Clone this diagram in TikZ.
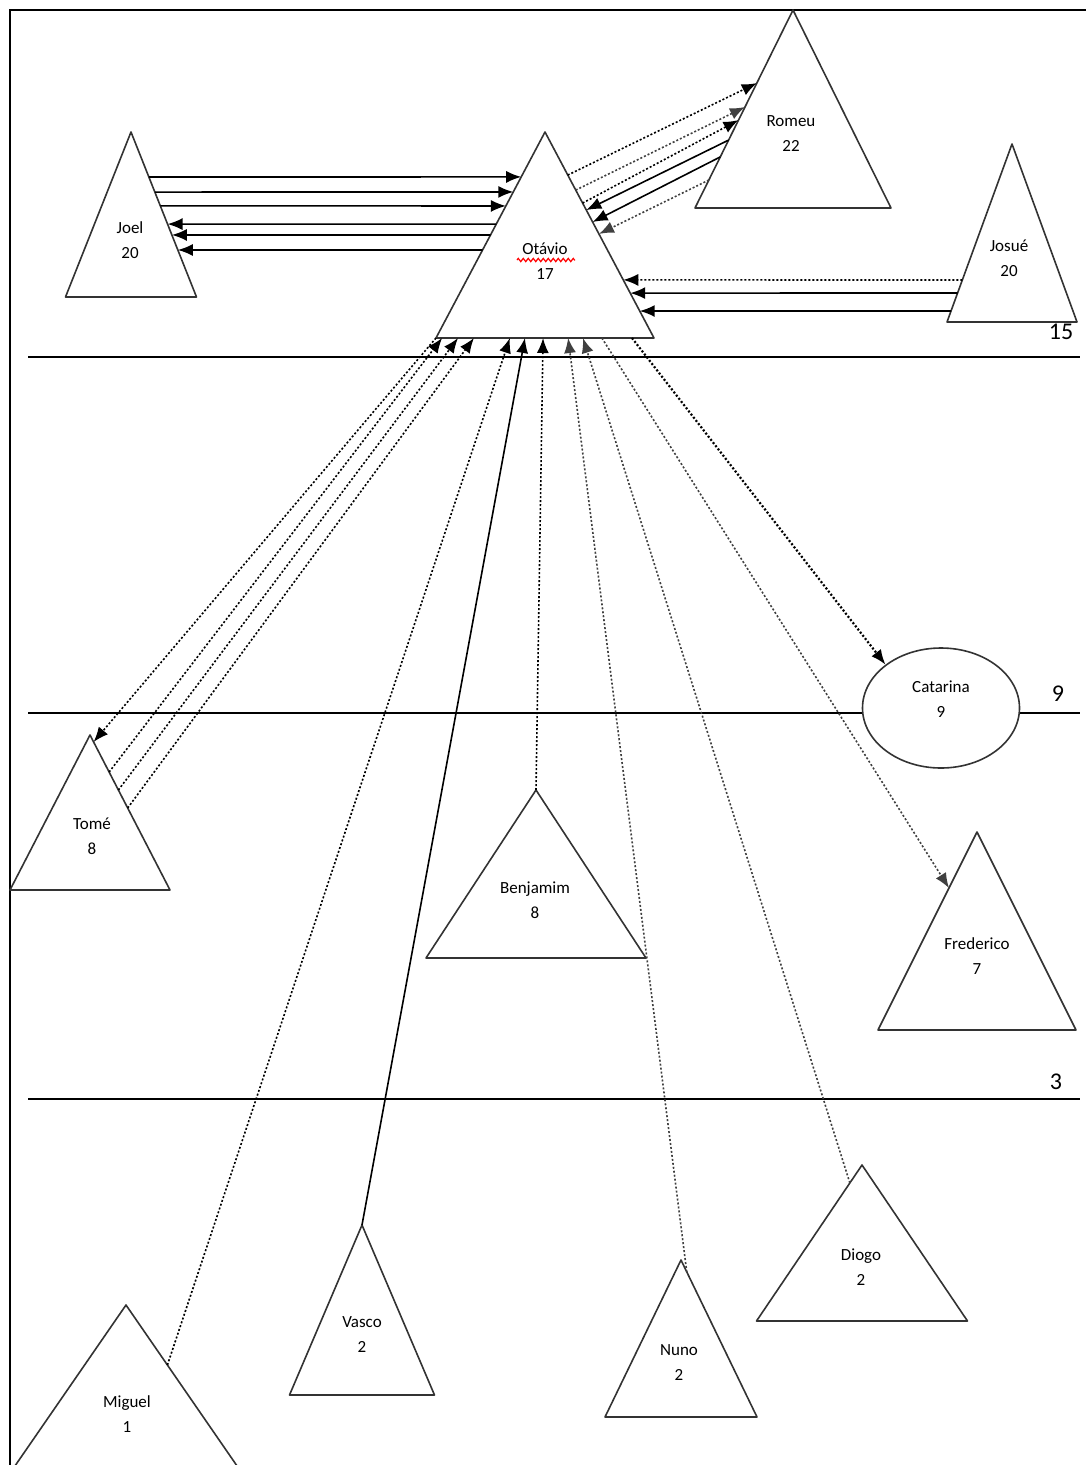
\documentclass[tikz,border=0pt]{standalone}
\usepackage{fontspec}
\setmainfont{Carlito}
\usetikzlibrary{arrows.meta,calc,shapes.geometric,decorations.pathmorphing}

\begin{document}
\begin{tikzpicture}[x=1pt, y=-1pt,
  tri/.style={draw=black!80, line width=1.6pt, line join=round, fill=white},
  lbl/.style={align=center, font=\fontsize{17}{25}\selectfont, inner sep=0pt},
  lvl/.style={font=\fontsize{24}{24}\selectfont, inner sep=0pt},
  con/.style={line width=1.6pt, -{Latex[length=15pt, width=12pt]}},
  dot/.style={con, dash pattern=on 2pt off 2pt},
  gdot/.style={dot, black!75}]
  \useasboundingbox (0,0) rectangle (1086,1465);
  \clip (0,0) rectangle (1086,1465);

  % frame and levels
  \draw[line width=2.5pt] (1086,10) -- (10,10) -- (10,1465);
  \draw[line width=1.8pt] (28,357) -- (1080,357);
  \draw[line width=1.8pt] (28,713) -- (1080,713);
  \draw[line width=1.8pt] (28,1099) -- (1080,1099);
  \node[lvl] (l15) at (1061,332) {15};
  \node[lvl] (l9) at (1058,694) {9};
  \node[lvl] (l3) at (1056,1082) {3};

  % triangles: name / apex / half base / height / label position / text
  \foreach \nm/\ax/\ay/\hw/\hh/\tx/\ty/\lab/\nr in {
      joel/131/132/65.5/165/130/240/Joel/20,
      otavio/545/132/109/206/545/261/Otávio/17,
      romeu/793/10/98/198/791/134/Romeu/22,
      josue/1012/144/65/178/1009/258/Josué/20,
      tome/90/735/80/155/92/836/Tomé/8,
      benjamim/536/790/110/168/535/900/Benjamim/8,
      frederico/977/832/99/198/977/956/Frederico/7,
      miguel/126/1305/138/200/127/1414/Miguel/1,
      vasco/362/1225/72.5/170/362/1335/Vasco/2,
      nuno/681/1260/76/157/679/1363/Nuno/2,
      diogo/862/1165/105.5/156/861/1267/Diogo/2} {
    \coordinate (\nm-a) at (\ax,\ay);
    \coordinate (\nm-l) at (\ax-\hw,\ay+\hh);
    \coordinate (\nm-r) at (\ax+\hw,\ay+\hh);
    \draw[tri] (\nm-a) -- (\nm-l) -- (\nm-r) -- cycle;
    \node[lbl] (\nm) at (\tx,\ty) {\lab\\\nr};
  }
  \node[ellipse, draw=black!80, line width=1.6pt, fill=white, inner sep=0pt,
    minimum width=157pt, minimum height=120pt] (catarina) at (941,708) {};
  \node[lbl] (catarina-t) at (941,699) {Catarina\\9};
  \draw[red, line width=1.2pt, decorate,
    decoration={zigzag, amplitude=1.6pt, segment length=5pt}] (517,260) -- (575,260);

  % Joel <-> Otávio
  \foreach \s/\e in {.273/.218, .364/.291, .448/.359}
    \draw[con] ($(joel-a)!\s!(joel-r)$) -- ($(otavio-a)!\e!(otavio-l)$);
  \foreach \s/\e in {.447/.558, .500/.624, .573/.715}
    \draw[con] ($(otavio-a)!\s!(otavio-l)$) -- ($(joel-a)!\e!(joel-r)$);

  % Otávio <-> Romeu
  \draw[dot] ($(otavio-a)!.209!(otavio-r)$) -- ($(romeu-a)!.369!(romeu-l)$);
  \draw[gdot] ($(otavio-a)!.282!(otavio-r)$) -- ($(romeu-a)!.490!(romeu-l)$);
  \draw[dot] ($(otavio-a)!.345!(otavio-r)$) -- ($(romeu-a)!.556!(romeu-l)$);
  \draw[con] ($(romeu-a)!.657!(romeu-l)$) -- ($(otavio-a)!.379!(otavio-r)$);
  \draw[con] ($(romeu-a)!.742!(romeu-l)$) -- ($(otavio-a)!.437!(otavio-r)$);
  \draw[gdot] ($(romeu-a)!.859!(romeu-l)$) -- ($(otavio-a)!.495!(otavio-r)$);

  % Josué -> Otávio
  \draw[dot] ($(josue-a)!.764!(josue-l)$) -- ($(otavio-a)!.718!(otavio-r)$);
  \draw[con] ($(josue-a)!.837!(josue-l)$) -- ($(otavio-a)!.782!(otavio-r)$);
  \draw[con] ($(josue-a)!.938!(josue-l)$) -- ($(otavio-a)!.869!(otavio-r)$);

  % below Otávio
  \draw[dot] (otavio-l) -- ($(tome-a)!.045!(tome-r)$);
  \foreach \s/\e in {.239/.028, .355/.101, .471/.174}
    \draw[dot] ($(tome-a)!\s!(tome-r)$) -- ($(otavio-l)!\e!(otavio-r)$);
  \draw[dot] ($(miguel-a)!.3!(miguel-r)$) -- ($(otavio-l)!.339!(otavio-r)$);
  \draw[con] (vasco-a) -- ($(otavio-l)!.408!(otavio-r)$);
  \draw[dot] (benjamim-a) -- ($(otavio-l)!.491!(otavio-r)$);
  \draw[gdot] ($(nuno-a)!.076!(nuno-r)$) -- ($(otavio-l)!.606!(otavio-r)$);
  \draw[gdot] ($(diogo-a)!.115!(diogo-l)$) -- ($(otavio-l)!.674!(otavio-r)$);
  \draw[gdot] ($(otavio-l)!.761!(otavio-r)$) -- ($(frederico-a)!.283!(frederico-l)$);
  \draw[dot, line width=2.2pt] ($(otavio-l)!.899!(otavio-r)$) -- (catarina.142);
\end{tikzpicture}
\end{document}
